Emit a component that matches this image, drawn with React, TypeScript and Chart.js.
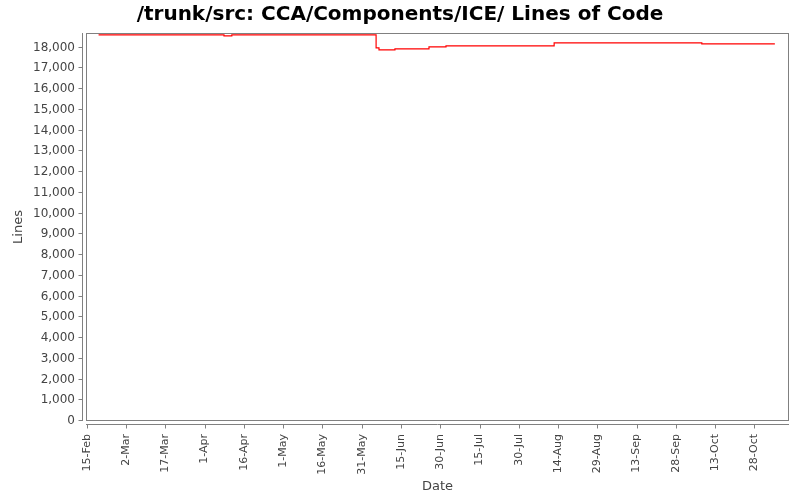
import React, { useEffect, useRef } from "react";
import { Chart, registerables } from "chart.js";

Chart.register(...registerables);

// x values are days since 15-Feb
const tickLabels = [
  "15-Feb", "2-Mar", "17-Mar", "1-Apr", "16-Apr", "1-May", "16-May", "31-May",
  "15-Jun", "30-Jun", "15-Jul", "30-Jul", "14-Aug", "29-Aug", "13-Sep", "28-Sep",
  "13-Oct", "28-Oct",
];
const tickDays = tickLabels.map((_, i) => i * 15);
const yTicks = [0, 1000, 2000, 3000, 4000, 5000, 6000, 7000, 8000, 9000, 10000,
  11000, 12000, 13000, 14000, 15000, 16000, 17000, 18000];

const changeDays = [4.5, 52.4, 55.4, 110.5, 111.6, 117.7, 130.7, 137.2, 178.5, 234.9, 262.8];
const lineCounts = [18609, 18561, 18609, 17984, 17888, 17936, 18032, 18080, 18224, 18176, 18176];

const X_MIN = -0.3;
const X_MAX = 268.2;
const Y_MAX = 18700;

const FONT = "'DejaVu Sans', sans-serif";
const GREY = "#808080";
const TEXT = "#444444";

const framePlugin = {
  id: "frame",
  beforeDatasetsDraw(chart: any) {
    const { ctx, chartArea, scales } = chart;
    const { left, right, top, bottom } = chartArea;
    ctx.save();
    ctx.strokeStyle = GREY;
    ctx.lineWidth = 1;
    // plot box
    ctx.strokeRect(Math.round(left) + 0.5, Math.round(top) + 0.5,
      Math.round(right - left) - 1, Math.round(bottom - top) - 1);
    // y axis line + ticks
    const ax = Math.round(left) - 4 + 0.5;
    ctx.beginPath();
    ctx.moveTo(ax, top);
    ctx.lineTo(ax, bottom);
    scales.y.ticks.forEach((t: any) => {
      const py = Math.round(scales.y.getPixelForValue(t.value)) - 0.5;
      ctx.moveTo(ax - 4, py);
      ctx.lineTo(ax, py);
    });
    // x axis line + ticks
    const ay = Math.round(bottom) + 3 + 0.5;
    ctx.moveTo(left, ay);
    ctx.lineTo(right, ay);
    scales.x.ticks.forEach((t: any) => {
      const px = Math.round(scales.x.getPixelForValue(t.value)) + 0.5;
      ctx.moveTo(px, ay);
      ctx.lineTo(px, ay + 4);
    });
    ctx.stroke();
    ctx.restore();
  },
};

export default function App() {
  const ref = useRef<HTMLCanvasElement | null>(null);

  useEffect(() => {
    document.body.style.margin = "0";
    const canvas = ref.current;
    if (!canvas) return;
    const chart = new Chart(canvas, {
      type: "line",
      data: {
        datasets: [
          {
            label: "Lines",
            data: changeDays.map((d, i) => ({ x: d, y: lineCounts[i] })),
            borderColor: "#ff0000",
            borderWidth: 1.2,
            pointRadius: 0,
            stepped: "before",
            fill: false,
          },
        ],
      },
      options: {
        animation: false,
        responsive: false,
        devicePixelRatio: 1,
        layout: { padding: 0 },
        plugins: {
          legend: { display: false },
          tooltip: { enabled: false },
          title: {
            display: true,
            text: "/trunk/src: CCA/Components/ICE/ Lines of Code",
            color: "#000000",
            font: { family: FONT, size: 20, weight: "bold", lineHeight: 1.2 },
            padding: { top: 3, bottom: 6 },
          },
        },
        scales: {
          x: {
            type: "linear",
            min: X_MIN,
            max: X_MAX,
            afterBuildTicks: (s: any) => {
              s.ticks = tickDays.map((v) => ({ value: v }));
            },
            afterFit: (s: any) => {
              s.height = 79;
            },
            grid: { display: false, drawTicks: false },
            border: { display: false },
            ticks: {
              autoSkip: false,
              maxRotation: 90,
              minRotation: 90,
              padding: 13,
              color: TEXT,
              font: { family: FONT, size: 11 },
              callback: (v: any) => tickLabels[tickDays.indexOf(Number(v))] ?? "",
            },
            title: {
              display: true,
              text: "Date",
              color: TEXT,
              font: { family: FONT, size: 13, lineHeight: 1.2 },
              padding: { top: 0, bottom: 6 },
            },
          },
          y: {
            type: "linear",
            min: 0,
            max: Y_MAX,
            afterBuildTicks: (s: any) => {
              s.ticks = yTicks.map((v) => ({ value: v }));
            },
            afterFit: (s: any) => {
              s.width = 86;
            },
            grid: { display: false, drawTicks: false },
            border: { display: false },
            ticks: {
              autoSkip: false,
              padding: 11,
              color: TEXT,
              font: { family: FONT, size: 12 },
              callback: (v: any) => Number(v).toLocaleString("en-US"),
            },
            title: {
              display: true,
              text: "Lines",
              color: TEXT,
              font: { family: FONT, size: 13, lineHeight: 1.2 },
              padding: { top: 11, bottom: 0 },
            },
          },
          rightGap: {
            type: "linear",
            position: "right",
            display: true,
            min: 0,
            max: 1,
            afterFit: (s: any) => {
              s.width = 11;
            },
            grid: { display: false, drawTicks: false },
            border: { display: false },
            ticks: { display: false },
          },
        },
      },
      plugins: [framePlugin],
    });
    return () => chart.destroy();
  }, []);

  return <canvas ref={ref} width={800} height={500} style={{ display: "block" }} />;
}
